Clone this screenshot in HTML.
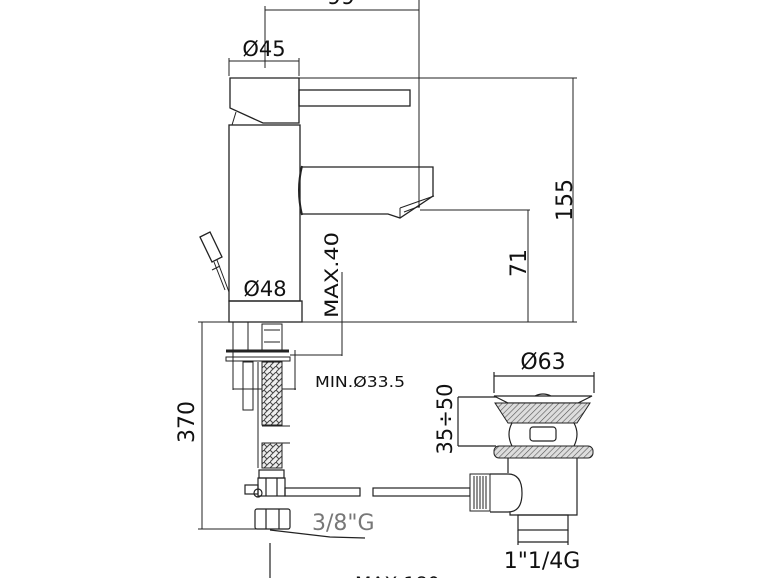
<!DOCTYPE html>
<html><head><meta charset="utf-8"><style>
html,body{margin:0;padding:0;background:#fff;}
svg{display:block;}
text{font-family:"DejaVu Sans","Liberation Sans",sans-serif;fill:#111;}
</style></head><body>
<svg width="770" height="578" viewBox="0 0 770 578" xmlns="http://www.w3.org/2000/svg">
<defs>
<pattern id="hatch" width="4" height="4" patternUnits="userSpaceOnUse" patternTransform="rotate(45)">
<rect width="4" height="4" fill="#ddd"/><line x1="0" y1="0" x2="0" y2="4" stroke="#555" stroke-width="1.2"/>
</pattern>
<pattern id="braid" width="6" height="6" patternUnits="userSpaceOnUse">
<rect width="6" height="6" fill="#eee"/><path d="M0,6 L6,0 M0,0 L3,3" stroke="#444" stroke-width="1"/>
</pattern>
</defs>
<g fill="none" stroke="#222" stroke-width="1">
<line x1="265" y1="10" x2="419" y2="10"/>
<line x1="265" y1="6" x2="265" y2="68"/>
<line x1="419" y1="0" x2="419" y2="208"/>
<line x1="229" y1="61" x2="299" y2="61"/>
<line x1="229" y1="58" x2="229" y2="76"/>
<line x1="299" y1="58" x2="299" y2="76"/>
<path d="M230,78 L299,78 L299,123 L263,123 L230,108 Z" stroke-width="1.3"/>
<rect x="299" y="90" width="111" height="16" stroke-width="1.3"/>
<path d="M232,125 L236,112" />
<line x1="299" y1="78" x2="577" y2="78"/>
<line x1="573" y1="78" x2="573" y2="322"/>
<rect x="229" y="125" width="71" height="176" stroke-width="1.3"/>
<path d="M302,167 L433,167 L433,196 L400,218 L388,214 L302,214" stroke-width="1.3"/>
<path d="M302,166 Q296,190 302,215" stroke-width="2"/>
<path d="M400,208 L434,196 M400,218 L400,208 M404,212 L420,206"/>
<line x1="420" y1="210" x2="530" y2="210"/>
<line x1="528" y1="210" x2="528" y2="322"/>
<line x1="200" y1="322" x2="577" y2="322"/>
<line x1="342" y1="272" x2="342" y2="356"/>
<line x1="290" y1="355" x2="342" y2="355"/>
<path d="M200,237 L210,232 L222,257 L212,262 Z" stroke-width="1.3"/>
<path d="M217,260 L229,292 M214,262 L225,290 M212,270 L220,266"/>
<line x1="229" y1="301" x2="302" y2="301"/>
<rect x="229" y="301" width="73" height="21" stroke-width="1.3"/>
<line x1="202" y1="322" x2="202" y2="529"/>
<line x1="198" y1="322" x2="228" y2="322"/>
<line x1="198" y1="529" x2="256" y2="529"/>
<rect x="233" y="322" width="15" height="29"/>
<rect x="262" y="324" width="20" height="27"/>
<line x1="264" y1="330" x2="280" y2="330"/><line x1="264" y1="342" x2="280" y2="342"/>
<line x1="226" y1="351" x2="289" y2="351" stroke-width="3"/>
<rect x="226" y="357" width="64" height="4"/>
<rect x="243" y="362" width="10" height="48"/>
<line x1="233" y1="350" x2="233" y2="390"/>
<line x1="295" y1="350" x2="295" y2="390"/>
<line x1="233" y1="389" x2="296" y2="389"/>
<line x1="258" y1="362" x2="258" y2="468"/>
<line x1="262" y1="426" x2="290" y2="426"/><line x1="262" y1="443" x2="290" y2="443"/>
</g>
<rect x="262" y="362" width="20" height="63" fill="url(#braid)" stroke="#222"/>
<rect x="262" y="443" width="20" height="25" fill="url(#braid)" stroke="#222"/>
<g fill="none" stroke="#222" stroke-width="1.2">
<rect x="259" y="470" width="25" height="8"/>
<rect x="258" y="478" width="27" height="18"/>
<line x1="266" y1="478" x2="266" y2="496"/><line x1="277" y1="478" x2="277" y2="496"/>
<rect x="245" y="485" width="13" height="9"/>
<circle cx="258" cy="493" r="4"/>
<rect x="285" y="488" width="75" height="8"/>
<rect x="373" y="488" width="97" height="8"/>
<rect x="255" y="509" width="35" height="20" rx="2"/>
<line x1="266" y1="509" x2="266" y2="529"/><line x1="279" y1="509" x2="279" y2="529"/>
<path d="M270,530 L330,537 L365,538"/>
<line x1="270" y1="543" x2="270" y2="578"/>
<line x1="494" y1="376" x2="594" y2="376"/>
<line x1="494" y1="372" x2="494" y2="393"/><line x1="594" y1="372" x2="594" y2="393"/>
<line x1="458" y1="397" x2="496" y2="397"/><line x1="458" y1="446" x2="496" y2="446"/>
<line x1="458" y1="397" x2="458" y2="446"/>
<path d="M494,396 L592,396 L578,403 L508,403 Z"/>
<path d="M535,396 Q543,392 551,396"/>
</g>
<path d="M495,403 L590,403 L577,423 L508,423 Z" fill="url(#hatch)" stroke="#222"/>
<rect x="494" y="446" width="99" height="12" rx="5" fill="url(#hatch)" stroke="#222"/>
<g fill="none" stroke="#222" stroke-width="1.2">
<path d="M512,423 Q506,434 512,446 M574,423 Q580,434 574,446"/>
<rect x="530" y="427" width="26" height="14" rx="3"/>
<path d="M508,458 L508,473 M577,458 L577,515 L510,515 L510,512"/>
<path d="M490,474 L508,474 Q522,474 522,493 Q522,512 508,512 L490,512"/>
<rect x="518" y="515" width="50" height="15"/>
<line x1="518" y1="542" x2="568" y2="542"/>
<line x1="518" y1="530" x2="518" y2="545"/><line x1="568" y1="530" x2="568" y2="545"/>
</g>
<rect x="470" y="474" width="20" height="37" fill="#fff" stroke="#222"/>
<g stroke="#222" stroke-width="1"><path d="M474,476 V509 M477,476 V509 M480,476 V509 M483,476 V509 M486,476 V509"/></g>
<text x="341" y="4" font-size="22" text-anchor="middle">99</text>
<text x="264" y="56" font-size="21" text-anchor="middle">Ø45</text>
<text x="265" y="296" font-size="21" text-anchor="middle">Ø48</text>
<text transform="translate(338,318) rotate(-90)" font-size="19" textLength="86" lengthAdjust="spacingAndGlyphs">MAX.40</text>
<text transform="translate(572,200) rotate(-90)" font-size="22" text-anchor="middle">155</text>
<text transform="translate(526,263) rotate(-90)" font-size="22" text-anchor="middle">71</text>
<text transform="translate(194,422) rotate(-90)" font-size="22" text-anchor="middle">370</text>
<text x="315" y="387" font-size="15" textLength="90" lengthAdjust="spacingAndGlyphs">MIN.Ø33.5</text>
<text x="543" y="369" font-size="22" text-anchor="middle">Ø63</text>
<text transform="translate(452,419) rotate(-90)" font-size="21" text-anchor="middle">35÷50</text>
<text x="312" y="530" font-size="22" style="fill:#777">3/8"G</text>
<text x="542" y="568" font-size="22" text-anchor="middle">1"1/4G</text>
<text x="355" y="590" font-size="19">MAX.180</text>
</svg>
</body></html>
